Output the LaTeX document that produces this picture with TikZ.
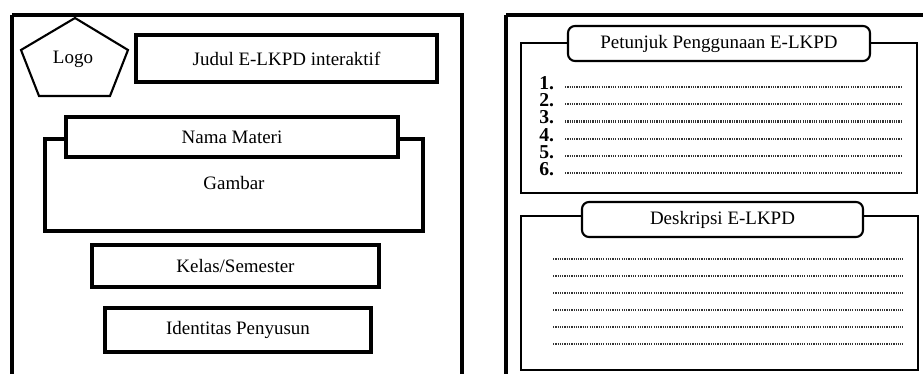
\documentclass[tikz,border=0pt]{standalone}
\usepackage{fontspec}
\setmainfont{Liberation Serif}
\usepackage{tikz}
\usetikzlibrary{calc}

\begin{document}
\begin{tikzpicture}[x=0.02cm,y=-0.02cm,
  every node/.style={font=\fontsize{10.8}{12}\selectfont},
  size/.style 2 args={minimum width=#1*0.02cm,minimum height=#2*0.02cm},
  box/.style={draw,line width=1.8pt,fill=white,inner sep=0pt},
  tab/.style={draw,line width=1.2pt,rounded corners=4pt,fill=white,inner sep=0pt},
  frame/.style={line width=1.5pt},
  num/.style={anchor=base west,inner sep=0pt,text height=7.5pt,text depth=0pt,
    font=\fontsize{11.2}{12}\selectfont\bfseries},
  dots/.style={line width=1.3pt,dash pattern=on 0.7pt off 0.6pt,black!80}]
\useasboundingbox (0,0) rectangle (923,374);
\draw[line width=2.5pt] (12,374) -- (12,15);
\draw[line width=1.9pt] (12,15) -- (462,15) -- (462,374);
\draw[line width=2.5pt] (506,374) -- (506,15);
\draw[line width=1.9pt] (506,15) -- (923,15);
\draw[line width=1.2pt] (75,18) -- (128,50) -- (110,96) -- (39,96) -- (21,50) -- cycle;
\node (logo) at (73,59) {Logo};
\node[box,line width=2.4pt,size={301}{47}] (judul) at (286.5,58.5) {Judul E-LKPD interaktif};
\draw[frame,line width=1.8pt] (45,139) rectangle (423,231);
\node (gambar) at (234,183) {Gambar};
\node[box,size={332}{40}] (materi) at (232,137) {Nama Materi};
\node[box,size={287}{42}] (kelas) at (235.5,266) {Kelas/Semester};
\node[box,size={266}{44}] (penyusun) at (238,330) {Identitas Penyusun};
\draw[frame] (521,43) rectangle (917,193);
\node[tab,size={302}{35}] (petunjuk) at (719,43.5) {Petunjuk Penggunaan E-LKPD};
\foreach \i in {1,...,6}{
  \node[num] (no\i) at (539,{72+17.3*\i}) {\i.};
  \draw[dots] (565,{69.5+17.3*\i}) -- (903,{69.5+17.3*\i});
}
\draw[frame] (521,216) rectangle (918,370);
\node[tab,size={281}{35}] (deskripsi) at (722.5,219.5) {Deskripsi E-LKPD};
\foreach \i in {0,...,5}
  \draw[dots] (553,{259+17*\i}) -- (903,{259+17*\i});
\end{tikzpicture}
\end{document}
